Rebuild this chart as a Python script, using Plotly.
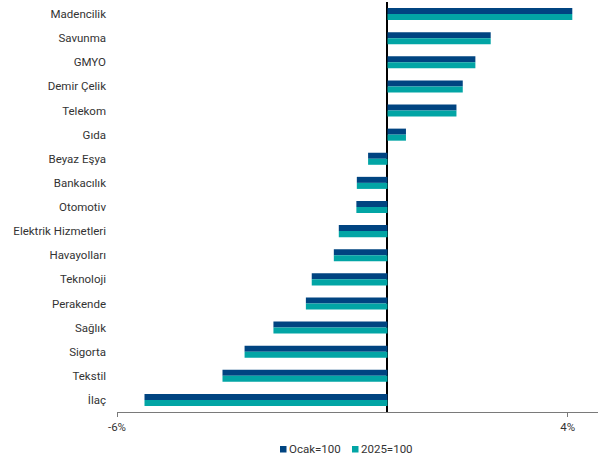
import plotly.graph_objects as go

# Sector returns (%), listed top to bottom
sectors = ["Madencilik", "Savunma", "GMYO", "Demir Çelik", "Telekom", "Gıda",
           "Beyaz Eşya", "Bankacılık", "Otomotiv", "Elektrik Hizmetleri",
           "Havayolları", "Teknoloji", "Perakende", "Sağlık", "Sigorta",
           "Tekstil", "İlaç"]
ocak_100 = [4.10, 2.29, 1.95, 1.67, 1.53, 0.41, -0.43, -0.68, -0.69, -1.08,
            -1.19, -1.68, -1.81, -2.53, -3.17, -3.66, -5.39]
yil_2025_100 = [4.10, 2.29, 1.95, 1.67, 1.53, 0.41, -0.43, -0.68, -0.69, -1.08,
                -1.19, -1.68, -1.81, -2.53, -3.17, -3.66, -5.39]

x_ticks = [-6, 4]
x_tick_text = ["-6%", "4%"]

NAVY = "#004481"
TEAL = "#02A5A5"
TEXT = "#333333"
FONT = "Roboto"
FS = 11.5

# plot area in pixels, used to place the hand-built legend
PL, PR, PT, PB = 117, 598, 2, 412


def px_x(px):
    return (px - PL) / (PR - PL)


def px_y(py):
    return (PB - py) / (PB - PT)


fig = go.Figure()
fig.add_trace(go.Bar(y=sectors, x=ocak_100, orientation="h", name="Ocak=100",
                     marker=dict(color=NAVY, line=dict(width=0))))
fig.add_trace(go.Bar(y=sectors, x=yil_2025_100, orientation="h", name="2025=100",
                     marker=dict(color=TEAL, line=dict(width=0))))

fig.update_layout(
    width=598, height=456,
    margin=dict(l=PL, r=598 - PR, t=PT, b=456 - PB),
    paper_bgcolor="white", plot_bgcolor="white",
    barmode="group", bargap=0.5, bargroupgap=0,
    showlegend=False,
    font=dict(family=FONT, size=FS, color=TEXT),
    xaxis=dict(
        range=[-6, 4.67], tickvals=x_ticks, ticktext=x_tick_text,
        showgrid=False, showline=True, linecolor="#7a7a7a", linewidth=1,
        ticks="outside", ticklen=4, tickcolor="#7a7a7a",
        zeroline=True, zerolinecolor="#000000", zerolinewidth=1.5,
        tickfont=dict(family=FONT, size=FS, color=TEXT),
    ),
    yaxis=dict(
        autorange="reversed", showgrid=False, showline=False, ticks="",
        ticklabelstandoff=10,
        tickfont=dict(family=FONT, size=FS, color=TEXT),
    ),
)

# Legend row below the axis: colour square + label
legend_items = [("Ocak=100", NAVY, 280), ("2025=100", TEAL, 352)]
for label, color, px in legend_items:
    fig.add_shape(
        type="rect", xref="paper", yref="paper",
        x0=px_x(px), x1=px_x(px + 6.5), y0=px_y(452.5), y1=px_y(446),
        fillcolor=color, line=dict(width=0),
    )
    fig.add_annotation(
        xref="paper", yref="paper",
        x=px_x(px + 8), y=px_y(449),
        xanchor="left", yanchor="middle", showarrow=False,
        text=label, borderpad=0,
        font=dict(family=FONT, size=FS, color=TEXT),
    )

fig.write_html("out.html")
